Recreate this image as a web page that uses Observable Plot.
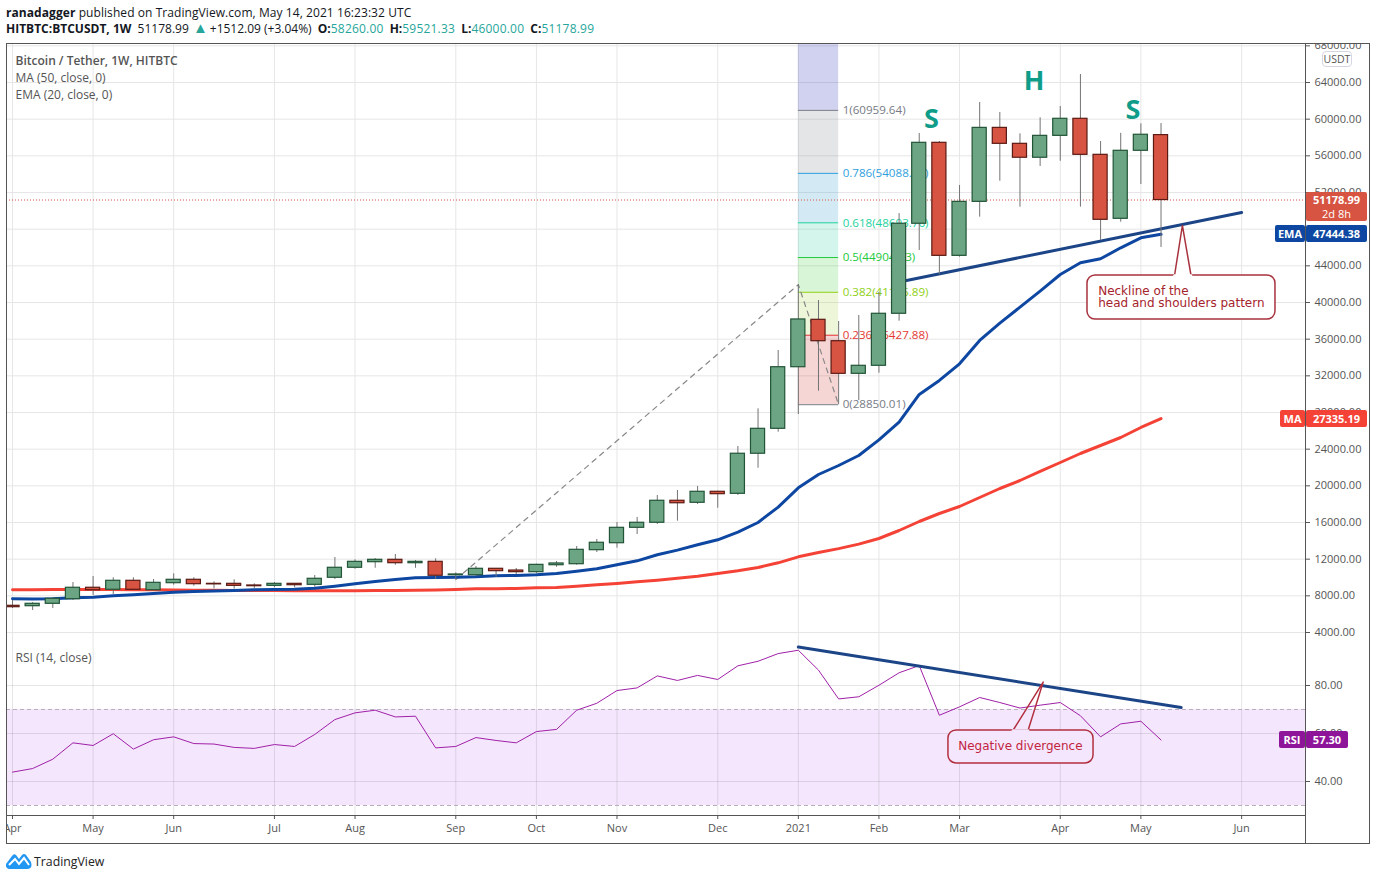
<!DOCTYPE html>
<html><head><meta charset="utf-8">
<script src="https://cdn.jsdelivr.net/npm/d3@7"></script>
<script src="https://cdn.jsdelivr.net/npm/@observablehq/plot@0.6"></script>
<style>
html,body{margin:0;padding:0;background:#fff;width:1376px;height:880px;overflow:hidden;font-family:"Open Sans",sans-serif;color:#131722}
#head{position:absolute;left:6px;top:5px;font-size:12px;line-height:16px;white-space:pre}
#head b{font-weight:700}
#head .v{color:#26a69a;letter-spacing:.2px}
#head .line1{letter-spacing:.07px}
#head .tri{font-size:15px;line-height:12px;margin:0 2px 0 1px;letter-spacing:0}
#head .o{margin-left:3px}
#head .gap{margin-left:3px}
#panes{position:absolute;left:6px;top:44px}
#panes svg{display:block;overflow:hidden}
#frame{position:absolute;left:6px;top:43px;width:1362px;height:799px;border:1px solid #555;pointer-events:none}
#vline{position:absolute;left:1305px;top:815px;width:1px;height:28px;background:#555}
.tag{position:absolute;color:#fff;font-size:11px;font-weight:700;text-align:center;border-radius:2px;box-sizing:border-box}
#usdt{position:absolute;left:1322px;top:51px;width:30px;height:16px;border:1px solid #d6d6e2;border-radius:4px;background:#fff;font-size:10.5px;line-height:15px;text-align:center;color:#555;box-sizing:border-box}
#logo{position:absolute;left:6px;top:853px;display:flex;align-items:center;font-size:12.3px;color:#222}
</style></head><body>
<div id="head"><span class="line1"><b>ranadagger</b> published on TradingView.com, May 14, 2021 16:23:32 UTC</span>
<b>HITBTC:BTCUSDT, 1W</b>  51178.99 <span class="v tri">▲</span>+1512.09 (+3.04%) <b class="o">O:</b><span class="v">58260.00</span> <b class="gap">H:</b><span class="v">59521.33</span> <b class="gap">L:</b><span class="v">46000.00</span> <b class="gap">C:</b><span class="v">51178.99</span></div>
<div id="panes"></div>
<div id="frame"></div><div id="vline"></div>
<div id="usdt">USDT</div>
<div id="logo"><svg width="26" height="17" viewBox="0 0 26 17" style="margin-right:2px"><path d="M0 11 L6 3 Q8 0 10 2 L13 6 L16 2 Q18 0 20 2 L25 9 Q27 16 21 16 L5 16 Q-1 16 0 11Z" fill="#2196f3"/><path d="M3 12 L9 6 L13 11 L18 5 L23 12" fill="none" stroke="#fff" stroke-width="2"/></svg><span>TradingView</span></div>
<script>
// Weekly candles from the week of 2020-04-06
const opens  = [6910,6870,7130,7630,8880,8660,9640,8610,9380,9750,9310,9310,9130,9090,9310,9200,9970,11060,11670,11930,11560,11710,10250,10250,10950,10760,10580,11340,11450,12980,13740,15420,15970,18370,18150,19350,19130,23500,26220,32940,38112,35778,32220,33095,38770,48590,57420,45090,50980,59050,57310,55790,58180,60040,56110,49130,56550,58260];
const highs  = [7490,7270,7750,9450,10110,9970,9970,9780,10400,9970,9530,9750,9310,9450,9310,10220,12180,11930,12070,12510,11850,12040,10510,11200,10950,10980,11450,11750,13380,14150,16000,16550,18950,19490,19930,19400,24290,28400,34760,41950,40218,37930,38580,41100,49700,58440,57560,52760,61820,60730,58400,60150,61380,64870,57560,58450,59490,59521.33];
const lows   = [6620,6400,6620,7490,8040,8150,8580,8610,9160,9050,8770,8720,8770,8880,8880,8940,9780,10900,11010,11340,11010,9780,9780,10110,10030,10330,10440,11120,11340,12730,13200,14690,15780,16140,17960,17560,18950,21920,25850,27780,30326,28850,29310,32290,37960,45670,43050,44940,49310,53230,50400,54840,55410,50400,46760,48760,52870,46000];
const closes = [6760,7130,7680,8880,8610,9640,8660,9420,9750,9270,9250,9090,9050,9310,9160,9860,11060,11710,11930,11560,11710,10190,10330,10950,10690,10580,11380,11530,13020,13790,15420,15970,18370,18100,19350,19090,23500,26220,32940,38150,35778,32220,33095,38770,48590,57420,45090,50980,59050,57310,55790,58180,60040,56110,49020,56550,58300,51178.99];
const ema = [7673,7655,7673,7782,7855,8000,8109,8255,8400,8473,8527,8582,8655,8691,8727,8836,9055,9309,9564,9782,9964,10000,10036,10074,10183,10220,10293,10438,10693,10947,11383,11820,12475,12983,13565,14110,14947,16000,17674,19783,21236,22218,23309,25020,26950,29967,31495,33313,35858,37747,39494,41240,43057,44330,44766,45966,47057,47444.38];
const ma  = [8655,8670,8680,8690,8690,8680,8670,8650,8630,8610,8600,8590,8580,8570,8560,8550,8550,8560,8570,8590,8610,8630,8693,8766,8766,8802,8875,8911,9056,9202,9347,9529,9711,9929,10147,10438,10729,11093,11600,12256,12727,13150,13640,14255,15127,16109,16982,17745,18727,19709,20582,21564,22545,23527,24400,25273,26364,27335.19];
const rsi = [43.9,45.4,49.3,56.1,55.0,59.9,53.5,57.4,58.6,55.8,55.6,54.2,53.8,55.4,54.6,59.6,65.8,68.6,69.7,66.9,67.2,54.0,54.6,58.3,57.1,56.1,60.8,61.7,69.7,72.6,77.9,79.0,84.0,82.1,84.2,82.5,88.2,90.1,93.3,94.7,86.4,74.4,75.3,80.1,85.3,88.3,67.6,71.1,75.0,72.9,70.6,71.8,72.9,67.4,58.6,64.0,65.1,57.30];

const firstWeek = Date.UTC(2020,3,6);
const wk = i => new Date(firstWeek + i*7*864e5);
const halfBody = 2.45*864e5;
const xDomain = [wk(-0.298), wk(64.17)];

const tickDates = ["2020-04-06","2020-05-04","2020-06-01","2020-07-06","2020-08-03","2020-09-07","2020-10-05","2020-11-02","2020-12-07","2021-01-04","2021-02-01","2021-03-01","2021-04-05","2021-05-03","2021-06-07"].map(d=>new Date(d));
const tickLabels = ["Apr","May","Jun","Jul","Aug","Sep","Oct","Nov","Dec","2021","Feb","Mar","Apr","May","Jun"];
const priceTicks = [4000,8000,12000,16000,20000,24000,28000,32000,36000,40000,44000,48000,52000,56000,60000,64000,68000];
const rsiTicks = [80,60,40];

const fibLevels = ["1(60959.64)","0.786(54088.18)","0.618(48693.76)","0.5(44904.83)","0.382(41115.89)","0.236(36427.88)","0(28850.01)"];
const fibPrices = [60959.64,54088.18,48693.76,44904.83,41115.89,36427.88,28850.01];
const fibLine = ["#787b86","#2f9fdc","#1fd3a0","#22c93c","#8fd014","#e53935","#787b86"];
const fibFill = ["#1a1ab4","#787b86","#2196c8","#26cea0","#3ccf37","#a6d13a","#d3302c"];
const fibTop = 68145;

const weeks = closes.map((c,i)=>({i,date:wk(i),o:opens[i],h:highs[i],l:lows[i],c,up:c>=opens[i],ema:ema[i],ma:ma[i],rsi:rsi[i]}));
const fibBands = fibPrices.map((p,k)=>({y1:k?fibPrices[k-1]:fibTop,y2:p,fill:fibFill[k]}));
const fibRows = fibPrices.map((p,k)=>({p,label:fibLevels[k],stroke:fibLine[k]}));

const font = {fontFamily:'"Open Sans",sans-serif',fontSize:"11px",color:"#555",background:"transparent"};
const gridColor = "#e6e6e6";

const neckline = [{x:wk(44.37),y:42400},{x:wk(61),y:49818}];
const trendDown = [{x:wk(22),y:9780},{x:wk(39),y:41950},{x:wk(41),y:28850}];
const neckBox = {x1:wk(53.35),x2:wk(62.68),y1:38145,y2:42945};
const neckPtr = [{x:wk(57.67),y:42945},{x:wk(58.06),y:48400},{x:wk(58.49),y:42945}];
const shsLabels = [{x:wk(45.6),y:59964,t:"S"},{x:wk(50.7),y:64110,t:"H"},{x:wk(55.6),y:60945,t:"S"}];
const calloutRed = "#a8323e";

const main = Plot.plot({
  width:1370,height:596,marginLeft:0,marginRight:71,marginTop:0,marginBottom:0,
  style:font,
  x:{type:"utc",domain:xDomain,range:[0,1299],axis:null},
  y:{type:"linear",domain:[3127,fibTop]},
  marks:[
    Plot.ruleY(priceTicks,{stroke:gridColor}),
    Plot.ruleX(tickDates,{stroke:gridColor}),
    Plot.rect(fibBands,{x1:()=>wk(39),x2:()=>wk(41),y1:"y1",y2:"y2",fill:"fill",fillOpacity:0.2}),
    Plot.ruleY(fibRows,{x1:()=>wk(39),x2:()=>wk(41),y:"p",stroke:"stroke"}),
    Plot.text(fibRows,{x:()=>wk(41),y:"p",text:"label",fill:"stroke",textAnchor:"start",dx:4,fontSize:11.6}),
    Plot.line(trendDown,{x:"x",y:"y",stroke:"#888",strokeWidth:1.2,strokeDasharray:"5 5"}),
    Plot.ruleY([51178.99],{stroke:"#d75442",strokeDasharray:"1 2"}),
    Plot.line(weeks,{x:"date",y:"ma",stroke:"#f44336",strokeWidth:3}),
    Plot.line(weeks,{x:"date",y:"ema",stroke:"#0d47a1",strokeWidth:3}),
    Plot.line(neckline,{x:"x",y:"y",stroke:"#1c4587",strokeWidth:3}),
    Plot.ruleX(weeks,{x:"date",y1:"l",y2:"h",stroke:"#737375",strokeWidth:1}),
    Plot.rect(weeks,{x1:d=>new Date(+d.date-halfBody),x2:d=>new Date(+d.date+halfBody),y1:"o",y2:"c",fill:d=>d.up?"#6ba583":"#d75442",stroke:d=>d.up?"#225437":"#5b1a13",strokeWidth:1.2}),
    Plot.text(shsLabels,{x:"x",y:"y",text:"t",fill:"#0f9d8a",fontSize:27,fontWeight:700}),
    Plot.rect([neckBox],{x1:"x1",x2:"x2",y1:"y1",y2:"y2",fill:"#fff",stroke:calloutRed,strokeWidth:1.5,rx:8}),
    Plot.line(neckPtr,{x:"x",y:"y",stroke:calloutRed,fill:"#fff",strokeWidth:1.5}),
    Plot.line([neckPtr[0],neckPtr[2]],{x:"x",y:"y",stroke:"#fff",strokeWidth:2.5}),
    Plot.text(["Neckline of the"],{x:()=>wk(53.88),y:()=>41220,text:d=>d,fill:"#a5232b",textAnchor:"start",fontSize:12,fontFamily:"DejaVu Sans"}),
    Plot.text(["head and shoulders pattern"],{x:()=>wk(53.88),y:()=>39910,text:d=>d,fill:"#a5232b",textAnchor:"start",fontSize:12,fontFamily:"DejaVu Sans"}),
    Plot.text(["Bitcoin / Tether, 1W, HITBTC"],{frameAnchor:"top-left",dx:9,dy:12,fill:"#555",fontWeight:600,fontSize:12}),
    Plot.text(["MA (50, close, 0)"],{frameAnchor:"top-left",dx:9,dy:29,fill:"#555",fontSize:12}),
    Plot.text(["EMA (20, close, 0)"],{frameAnchor:"top-left",dx:9,dy:46,fill:"#555",fontSize:12}),
    Plot.ruleX([xDomain[1]],{stroke:"#555"}),
    Plot.ruleY([3127],{stroke:"#555"}),
    Plot.axisY({anchor:"right",ticks:priceTicks,tickFormat:d=>d.toFixed(2),tickSize:4,tickPadding:5,label:null,stroke:"#555",color:"#555"})
  ]
});

const rsiTrend = [{x:wk(39),y:96.0},{x:wk(58),y:70.8}];
const divBox = {x1:wk(46.45),x2:wk(53.65),y1:47.5,y2:61.25};
const divPtr = [{x:wk(49.65),y:61.25},{x:wk(51.15),y:81.4},{x:wk(50.4),y:61.25}];
const bandFill = "#f4e7fd";

const lower = Plot.plot({
  width:1370,height:203,marginLeft:0,marginRight:71,marginTop:0,marginBottom:28,
  style:font,
  x:{type:"utc",domain:xDomain,range:[0,1299]},
  y:{type:"linear",domain:[25.83,98.75]},
  marks:[
    Plot.rectY([0],{x1:()=>xDomain[0],x2:()=>xDomain[1],y1:()=>30,y2:()=>70,fill:bandFill}),
    Plot.ruleY(rsiTicks,{stroke:"#000",strokeOpacity:0.1}),
    Plot.ruleX(tickDates,{stroke:"#000",strokeOpacity:0.1}),
    Plot.ruleY([70,30],{stroke:"#b8aebc",strokeDasharray:"4 3"}),
    Plot.line(weeks,{x:"date",y:"rsi",stroke:"#a020a8",strokeWidth:1}),
    Plot.line(rsiTrend,{x:"x",y:"y",stroke:"#1c4587",strokeWidth:3}),
    Plot.rect([divBox],{x1:"x1",x2:"x2",y1:"y1",y2:"y2",fill:bandFill,stroke:"#b22f3f",strokeWidth:1.5,rx:8}),
    Plot.line(divPtr,{x:"x",y:"y",stroke:"#b22f3f",strokeWidth:1.5}),
    Plot.line([divPtr[0],divPtr[2]],{x:"x",y:"y",stroke:bandFill,strokeWidth:2.5}),
    Plot.text(["Negative divergence"],{x:()=>wk(50.02),y:()=>54.9,text:d=>d,fill:"#c2253e",fontSize:12,fontFamily:"DejaVu Sans"}),
    Plot.text(["RSI (14, close)"],{frameAnchor:"top-left",dx:9,dy:13,fill:"#555",fontSize:12}),
    Plot.ruleX([xDomain[1]],{stroke:"#555"}),
    Plot.ruleY([25.83],{stroke:"#555"}),
    Plot.axisY({anchor:"right",ticks:rsiTicks,tickFormat:d=>d.toFixed(2),tickSize:4,tickPadding:5,label:null,stroke:"#555",color:"#555"}),
    Plot.axisX({ticks:tickDates,tickFormat:d=>tickLabels[tickDates.findIndex(t=>+t===+d)],tickSize:4,tickPadding:5,label:null,stroke:"#555",color:"#555"})
  ]
});

const panes = document.getElementById("panes");
panes.append(main, lower);

function tag(text, left, width, top, height, bg, extra){
  const e = document.createElement("div");
  e.className = "tag";
  e.style.cssText = `left:${left}px;width:${width}px;top:${top}px;height:${height}px;background:${bg};line-height:${height}px;${extra||""}`;
  e.textContent = text;
  document.body.append(e);
  return e;
}
const yMain = v => 44 + main.scale("y").apply(v);
const yRsi  = v => 640 + lower.scale("y").apply(v);
const lastClose = yMain(51178.99);
tag("51178.99",1306,61,lastClose-8,15,"#d75442","border-radius:2px 2px 0 0");
tag("2d 8h",1306,61,lastClose+6,15,"#d75442","font-weight:400;border-radius:0 0 2px 2px");
const yE = yMain(47444.38);
tag("EMA",1275,30,yE-8.5,17,"#0d47a1");
tag("47444.38",1306,61,yE-8.5,17,"#0d47a1");
const yM = yMain(27335.19);
tag("MA",1280,25,yM-8.5,17,"#f44336");
tag("27335.19",1306,61,yM-8.5,17,"#f44336");
const yR = yRsi(57.30);
tag("RSI",1279,26,yR-8.5,17,"#8e1599");
tag("57.30",1306,42,yR-8.5,17,"#8e1599");
</script>
</body></html>
